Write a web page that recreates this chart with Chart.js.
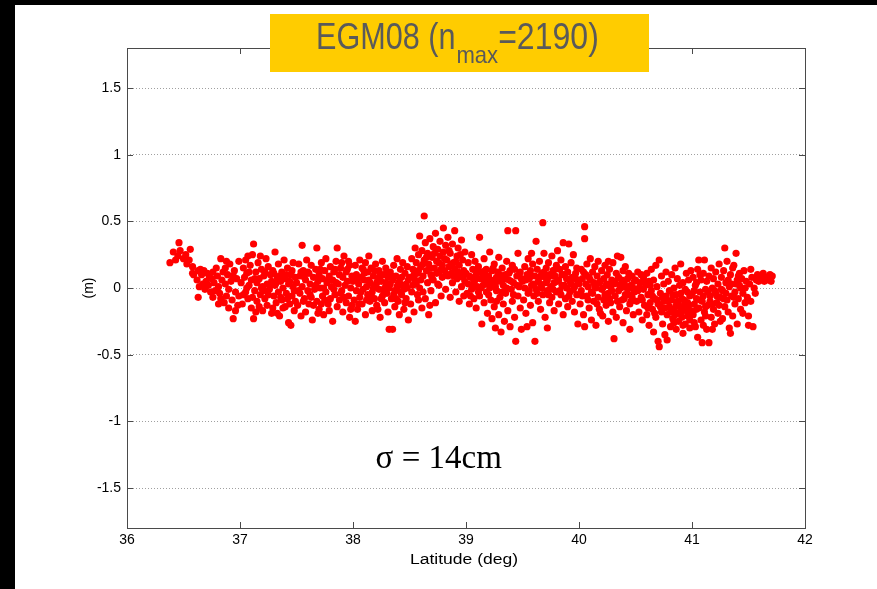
<!DOCTYPE html>
<html>
<head>
<meta charset="utf-8">
<title>EGM08 residuals</title>
<script src="https://cdn.jsdelivr.net/npm/chart.js@4.4.0/dist/chart.umd.min.js"></script>
<style>
  html, body { margin: 0; padding: 0; background: #fff; }
  #residualChart { display: block; }
</style>
</head>
<body>
<canvas id="residualChart" width="877" height="589"></canvas>
<script>
// Geoid height differences along the profile, [latitude (deg), dh (m)]
const obs36 = [
  [36.38,0.19],[36.41,0.27],[36.43,0.21],[36.45,0.24],[36.46,0.34],[36.47,0.28],[36.50,0.22],[36.52,0.25],
  [36.53,0.18],[36.55,0.21],[36.56,0.29],[36.58,0.16],[36.58,0.11],
  [36.59,0.10],[36.62,0.06],[36.63,0.13],[36.63,-0.07],[36.64,0.01],[36.65,0.14],[36.66,0.10],[36.67,0.03],
  [36.68,0.13],[36.69,-0.01],[36.70,0.05],[36.71,0.11],[36.72,0.02],[36.73,0.08],[36.74,-0.03],[36.75,0.07],
  [36.76,0.12],[36.76,-0.07],[36.77,0.04],[36.78,-0.02],[36.79,0.15],[36.80,0.09],[36.81,0.01],[36.81,-0.12],
  [36.82,-0.04],[36.83,-0.08],[36.83,0.22],[36.84,0.06],[36.85,0.12],[36.86,-0.11],[36.87,0.03],[36.87,0.15],
  [36.88,-0.06],[36.88,0.20],[36.89,0.10],[36.90,-0.01],[36.90,-0.15],[36.91,0.18],[36.92,0.05],[36.93,-0.09],
  [36.94,-0.23],[36.94,0.09],[36.95,0.13],[36.96,-0.03],[36.96,-0.17],[36.97,0.07],[36.98,-0.13],[36.99,0.20],
  [36.99,-0.06]
];

const obs37 = [
  [37.01,0.04],[37.02,-0.12],[37.03,0.15],[37.03,-0.05],[37.04,0.08],[37.05,-0.03],[37.05,0.21],[37.06,0.11],
  [37.06,0.00],[37.07,-0.08],[37.07,0.24],[37.08,0.02],[37.08,0.12],[37.09,0.17],[37.10,-0.15],[37.10,0.06],
  [37.11,0.25],[37.11,-0.07],[37.12,0.33],[37.12,-0.23],[37.13,-0.02],[37.13,0.07],[37.14,0.12],[37.14,-0.18],
  [37.15,0.04],[37.15,-0.10],[37.16,0.19],[37.17,0.07],[37.17,-0.14],[37.18,-0.05],[37.18,0.24],[37.19,0.14],
  [37.19,0.00],[37.20,-0.17],[37.20,0.01],[37.21,0.09],[37.21,-0.02],[37.22,-0.08],[37.22,0.12],[37.23,0.22],
  [37.24,0.03],[37.24,-0.13],[37.25,0.16],[37.25,-0.05],[37.26,-0.01],[37.27,0.10],[37.27,0.02],[37.28,-0.19],
  [37.28,0.05],[37.29,0.13],[37.29,-0.15],[37.30,-0.06],[37.30,0.11],[37.31,0.27],[37.31,0.02],[37.32,-0.11],
  [37.32,0.04],[37.33,0.08],[37.33,-0.19],[37.34,0.18],[37.34,-0.03],[37.35,-0.21],[37.35,0.09],[37.36,0.05],
  [37.36,-0.07],[37.37,0.12],[37.37,-0.09],[37.38,0.00],[37.38,-0.15],[37.39,0.21],[37.40,-0.14],[37.40,0.07],
  [37.41,-0.04],[37.41,0.10],[37.42,0.15],[37.42,-0.08],[37.43,-0.26],[37.43,0.03],[37.44,-0.12],[37.44,0.05],
  [37.45,0.10],[37.45,-0.28],[37.46,-0.06],[37.46,0.13],[37.47,0.19],[37.47,0.01],[37.48,-0.17],[37.48,-0.02],
  [37.49,0.08],[37.49,-0.10],
  [37.50,0.04],[37.51,-0.13],[37.52,0.18],[37.52,-0.02],[37.53,-0.04],[37.53,0.09],[37.54,-0.21],[37.54,0.12],
  [37.55,0.32],[37.55,0.01],[37.56,0.13],[37.56,-0.10],[37.57,-0.08],[37.57,0.08],[37.58,0.06],[37.58,-0.18],
  [37.59,0.21],[37.60,-0.02],[37.60,0.12],[37.61,0.11],[37.61,-0.12],[37.62,0.03],[37.62,-0.05],[37.63,0.17],
  [37.63,-0.07],[37.64,-0.24],[37.65,0.08],[37.65,-0.13],[37.66,-0.01],[37.67,0.14],[37.67,0.02],[37.68,0.30],
  [37.68,-0.10],[37.69,0.05],[37.69,-0.19],[37.70,-0.16],[37.70,0.10],[37.71,0.00],[37.71,0.14],[37.72,0.19],
  [37.72,-0.12],[37.73,-0.06],[37.73,0.07],[37.74,-0.20],[37.74,0.00],[37.75,0.13],[37.75,-0.09],[37.76,-0.03],
  [37.76,0.22],[37.77,0.04],[37.78,-0.12],[37.78,0.06],[37.79,0.09],[37.79,-0.17],[37.80,-0.08],[37.80,0.16],
  [37.81,0.01],[37.82,-0.25],[37.82,0.06],[37.83,0.12],[37.83,-0.01],[37.84,-0.05],[37.84,0.14],[37.85,0.20],
  [37.85,0.04],[37.86,0.30],[37.86,-0.14],[37.87,0.03],[37.88,0.10],[37.88,-0.09],[37.89,0.15],[37.89,-0.04],
  [37.90,-0.02],[37.90,0.19],[37.91,0.08],[37.91,-0.18],[37.92,0.24],[37.92,-0.07],[37.93,0.02],[37.94,-0.11],
  [37.94,0.12],[37.95,0.05],[37.95,0.14],[37.96,-0.06],[37.96,0.20],[37.97,-0.22],[37.97,0.17],[37.98,0.00],
  [37.98,-0.16],[37.99,0.09],[37.99,-0.13]
];

const obs38 = [
  [38.00,0.05],[38.01,-0.09],[38.02,0.17],[38.02,-0.25],[38.03,-0.02],[38.03,0.10],[38.04,-0.16],[38.04,0.07],
  [38.05,0.03],[38.05,-0.12],[38.06,0.21],[38.06,-0.07],[38.07,0.08],[38.07,-0.03],[38.08,-0.12],[38.08,0.15],
  [38.09,0.14],[38.09,-0.01],[38.10,0.06],[38.10,0.11],[38.11,-0.20],[38.11,0.19],[38.12,0.01],[38.12,-0.09],
  [38.13,-0.05],[38.13,0.12],[38.14,0.24],[38.14,0.06],[38.15,-0.10],[38.15,0.04],[38.16,0.15],[38.16,-0.06],
  [38.17,-0.03],[38.17,-0.17],[38.18,0.09],[38.18,0.00],[38.19,-0.08],[38.19,0.13],[38.20,0.02],[38.20,0.18],
  [38.21,-0.13],[38.21,0.04],[38.22,0.07],[38.22,-0.16],[38.23,-0.01],[38.23,0.13],[38.24,-0.22],[38.24,0.10],
  [38.25,0.05],[38.25,-0.08],[38.26,-0.06],[38.26,0.20],[38.27,0.10],[38.27,-0.02],[38.28,-0.11],[38.28,0.00],
  [38.29,0.15],[38.29,0.04],[38.30,-0.04],[38.30,0.11],[38.31,0.08],[38.31,-0.18],[38.32,-0.31],[38.32,0.00],
  [38.33,0.03],[38.33,0.12],[38.34,-0.08],[38.34,0.09],[38.35,-0.31],[38.35,0.06],[38.36,0.17],[38.36,-0.05],
  [38.37,-0.02],[38.37,-0.14],[38.38,0.09],[38.38,-0.08],[38.39,0.01],[38.39,0.22],[38.40,-0.10],[38.40,0.03],
  [38.41,0.05],[38.41,-0.20],[38.42,0.14],[38.42,-0.03],[38.43,-0.05],[38.43,0.08],[38.44,0.19],[38.44,0.02],
  [38.45,-0.01],[38.45,-0.16],[38.46,0.11],[38.46,-0.11],[38.47,0.03],[38.47,-0.08],[38.48,0.16],[38.48,0.00],
  [38.49,0.06],[38.49,-0.24],
  [38.50,0.08],[38.51,-0.12],[38.52,0.22],[38.52,-0.03],[38.53,0.02],[38.53,0.14],[38.54,-0.18],[38.54,0.10],
  [38.55,0.30],[38.55,0.06],[38.56,0.19],[38.56,0.03],[38.57,-0.05],[38.57,0.11],[38.58,0.25],[38.58,0.13],
  [38.58,-0.09],[38.59,0.39],[38.59,0.00],[38.60,0.16],[38.60,0.06],[38.61,-0.15],[38.61,0.28],[38.62,0.09],
  [38.62,0.18],[38.62,-0.03],[38.63,0.54],[38.63,0.21],[38.64,-0.08],[38.64,0.34],[38.65,0.13],[38.65,0.23],
  [38.66,0.04],[38.66,0.26],[38.67,-0.20],[38.67,0.18],[38.68,0.37],[38.68,0.15],[38.68,-0.13],[38.69,0.10],
  [38.69,-0.02],[38.70,0.23],[38.70,0.07],[38.71,0.31],[38.71,0.06],[38.72,0.15],[38.72,0.26],[38.73,0.41],
  [38.73,-0.11],[38.74,0.20],[38.74,0.11],[38.75,0.29],[38.75,0.03],[38.76,0.12],[38.76,0.19],[38.76,0.02],
  [38.77,0.35],[38.77,0.24],[38.78,-0.06],[38.78,0.14],[38.79,0.17],[38.79,0.08],[38.80,0.45],[38.80,0.27],
  [38.81,0.13],[38.81,0.22],[38.82,-0.01],[38.82,0.32],[38.83,0.21],[38.83,0.10],[38.84,0.09],[38.84,0.38],
  [38.85,0.16],[38.85,0.28],[38.86,-0.07],[38.86,0.26],[38.87,0.11],[38.87,0.18],[38.88,0.33],[38.88,0.04],
  [38.89,0.19],[38.89,0.09],[38.90,0.43],[38.90,0.14],[38.91,-0.03],[38.91,0.20],[38.92,0.24],[38.92,0.07],
  [38.93,0.30],[38.93,0.12],[38.94,-0.10],[38.94,0.17],[38.95,0.10],[38.95,0.25],[38.96,0.36],[38.96,0.01],
  [38.97,0.21],[38.97,0.08],[38.98,0.13],[38.98,-0.06],[38.99,0.27],[38.99,0.05]
];

const obs39 = [
  [39.00,0.11],[39.01,-0.04],[39.02,0.19],[39.02,0.03],[39.03,-0.12],[39.03,0.09],[39.04,0.08],[39.04,-0.06],
  [39.05,0.25],[39.05,-0.01],[39.06,0.14],[39.06,0.02],[39.07,-0.08],[39.07,0.05],[39.08,0.20],[39.08,0.06],
  [39.09,-0.15],[39.09,0.10],[39.10,0.01],[39.10,0.12],[39.11,0.16],[39.11,-0.03],[39.12,0.38],[39.12,-0.06],
  [39.13,0.07],[39.13,0.00],[39.14,-0.27],[39.14,0.12],[39.15,0.02],[39.15,0.09],[39.16,-0.11],[39.16,0.22],
  [39.17,0.06],[39.17,0.13],[39.18,-0.03],[39.18,0.14],[39.19,-0.19],[39.19,0.03],[39.20,0.09],[39.20,-0.05],
  [39.21,0.00],[39.21,0.27],[39.22,-0.09],[39.22,0.06],[39.23,0.13],[39.23,-0.23],[39.24,0.04],[39.24,0.15],
  [39.25,-0.14],[39.25,0.18],[39.26,-0.30],[39.26,0.01],[39.27,0.08],[39.27,-0.02],[39.27,-0.10],[39.28,0.12],
  [39.28,0.05],[39.29,-0.20],[39.29,0.23],[39.30,-0.07],[39.30,0.10],[39.31,0.05],[39.31,-0.33],[39.32,0.15],
  [39.32,-0.03],[39.33,-0.12],[39.33,0.02],[39.34,-0.25],[39.34,0.07],[39.35,0.10],[39.35,-0.04],[39.36,0.20],
  [39.36,0.00],[39.37,0.43],[39.37,-0.17],[39.38,0.06],[39.38,0.11],[39.39,-0.29],[39.39,0.13],[39.40,-0.01],
  [39.40,0.05],[39.41,-0.10],[39.41,0.17],[39.42,0.04],[39.42,-0.05],[39.43,-0.22],[39.43,0.14],[39.44,0.43],
  [39.44,-0.40],[39.45,0.09],[39.45,0.02],[39.46,-0.06],[39.46,0.26],[39.47,0.01],[39.47,0.10],[39.48,-0.15],
  [39.48,0.12],[39.49,-0.31],[39.49,0.07],
  [39.50,0.05],[39.51,-0.09],[39.52,0.16],[39.52,0.00],[39.53,-0.19],[39.53,0.06],[39.54,0.10],[39.54,-0.29],
  [39.55,-0.04],[39.55,0.22],[39.56,0.07],[39.56,-0.02],[39.57,-0.13],[39.57,0.13],[39.58,0.02],[39.58,0.09],
  [39.58,0.26],[39.59,-0.26],[39.59,0.18],[39.60,-0.06],[39.60,0.03],[39.61,-0.40],[39.61,0.09],[39.62,0.35],
  [39.62,-0.01],[39.63,0.14],[39.63,-0.04],[39.64,-0.10],[39.64,0.05],[39.65,0.20],[39.65,0.08],[39.66,-0.16],
  [39.66,0.03],[39.67,0.11],[39.67,0.00],[39.68,0.49],[39.68,-0.05],[39.69,0.26],[39.69,0.12],[39.70,0.08],
  [39.70,-0.22],[39.71,0.15],[39.71,0.04],[39.72,-0.02],[39.72,0.06],[39.72,-0.30],[39.73,0.19],[39.73,-0.05],
  [39.74,-0.11],[39.74,0.10],[39.75,0.01],[39.75,0.09],[39.76,0.24],[39.76,-0.07],[39.77,0.13],[39.77,-0.01],
  [39.78,-0.17],[39.78,0.04],[39.79,0.09],[39.79,0.14],[39.80,-0.03],[39.80,0.17],[39.81,0.28],[39.81,0.05],
  [39.82,-0.12],[39.82,0.06],[39.83,0.14],[39.83,-0.02],[39.84,-0.05],[39.84,0.21],[39.85,0.02],[39.85,0.10],
  [39.86,0.34],[39.86,-0.20],[39.87,0.10],[39.87,0.02],[39.88,-0.08],[39.88,0.16],[39.89,0.00],[39.89,0.07],
  [39.90,0.12],[39.90,-0.14],[39.91,0.33],[39.91,-0.06],[39.92,0.05],[39.92,-0.03],[39.93,0.19],[39.93,0.03],
  [39.94,-0.10],[39.94,0.08],[39.95,0.25],[39.95,-0.01],[39.96,0.01],[39.96,-0.18],[39.97,0.11],[39.97,0.07],
  [39.98,-0.05],[39.98,0.15],[39.99,0.04],[39.99,-0.27]
];

const obs40 = [
  [40.00,0.03],[40.01,-0.12],[40.02,0.14],[40.02,-0.02],[40.03,0.07],[40.03,-0.06],[40.04,-0.20],[40.04,0.12],
  [40.05,0.46],[40.05,0.37],[40.05,-0.29],[40.06,0.10],[40.06,0.03],[40.07,-0.06],[40.07,0.18],[40.08,0.01],
  [40.08,-0.09],[40.09,-0.15],[40.09,0.08],[40.10,0.22],[40.10,0.06],[40.11,-0.03],[40.11,-0.24],[40.12,0.12],
  [40.12,-0.04],[40.13,0.04],[40.13,-0.10],[40.14,0.16],[40.14,0.01],[40.15,-0.28],[40.15,0.00],[40.16,0.09],
  [40.16,-0.12],[40.17,-0.07],[40.17,0.20],[40.18,-0.16],[40.18,0.04],[40.19,0.05],[40.19,-0.19],[40.20,-0.01],
  [40.20,0.13],[40.21,-0.21],[40.21,0.00],[40.22,0.07],[40.22,-0.09],[40.23,0.17],[40.23,-0.05],[40.24,0.02],
  [40.24,-0.13],[40.25,0.10],[40.25,0.03],[40.26,-0.04],[40.26,-0.25],[40.26,0.20],[40.27,0.14],[40.27,-0.08],
  [40.28,0.01],[40.28,-0.11],[40.29,0.06],[40.29,-0.02],[40.30,-0.18],[40.30,0.19],[40.31,-0.38],[40.31,0.03],
  [40.32,-0.06],[40.32,0.05],[40.33,0.11],[40.33,-0.22],[40.34,0.24],[40.34,-0.10],[40.35,-0.02],[40.35,0.08],
  [40.36,-0.14],[40.36,0.02],[40.37,0.23],[40.37,0.00],[40.38,-0.09],[40.38,0.06],[40.39,0.13],[40.39,-0.26],
  [40.40,0.04],[40.40,-0.08],[40.41,-0.05],[40.41,0.16],[40.42,-0.17],[40.42,0.01],[40.43,0.07],[40.43,-0.01],
  [40.44,0.11],[40.44,-0.05],[40.45,-0.12],[40.45,-0.31],[40.46,0.02],[40.46,-0.10],[40.47,0.09],[40.47,-0.07],
  [40.48,-0.20],[40.48,0.00],[40.49,0.05],[40.49,-0.03],
  [40.50,0.06],[40.51,-0.10],[40.52,0.12],[40.52,-0.02],[40.53,-0.18],[40.53,0.00],[40.54,0.04],[40.55,-0.07],
  [40.55,0.10],[40.56,-0.24],[40.56,-0.09],[40.57,-0.01],[40.57,0.08],[40.58,-0.13],[40.58,0.05],[40.59,0.02],
  [40.60,-0.20],[40.60,0.11],[40.61,-0.05],[40.61,-0.15],[40.62,0.05],[40.62,-0.28],[40.63,-0.11],[40.63,0.02],
  [40.64,0.14],[40.64,-0.02],[40.65,-0.16],[40.65,-0.06],[40.66,0.06],[40.66,-0.33],[40.67,-0.08],[40.67,-0.19],
  [40.68,0.17],[40.68,-0.22],[40.69,0.01],[40.69,-0.09],[40.70,-0.12],[40.70,-0.40],[40.71,0.21],[40.71,-0.44],
  [40.72,-0.04],[40.72,-0.14],[40.73,-0.18],[40.73,0.09],[40.74,-0.27],[40.74,-0.07],[40.75,0.03],[40.75,-0.10],
  [40.76,-0.35],[40.76,-0.15],[40.77,0.12],[40.77,-0.06],[40.78,-0.39],[40.78,-0.20],[40.79,0.05],[40.79,-0.10],
  [40.80,-0.14],[40.80,-0.02],[40.81,-0.29],[40.81,-0.18],[40.82,0.10],[40.82,-0.09],[40.83,-0.23],[40.83,-0.05],
  [40.84,0.00],[40.84,-0.16],[40.84,-0.26],[40.85,0.15],[40.85,-0.20],[40.86,-0.05],[40.86,-0.31],[40.86,-0.13],
  [40.87,0.07],[40.87,-0.10],[40.88,-0.12],[40.88,-0.25],[40.88,-0.19],[40.89,0.02],[40.89,-0.14],[40.90,-0.19],
  [40.90,0.18],[40.90,-0.04],[40.91,-0.08],[40.91,-0.22],[40.92,-0.34],[40.92,0.04],[40.92,-0.28],[40.93,-0.15],
  [40.93,-0.09],[40.94,-0.01],[40.94,-0.27],[40.94,-0.12],[40.95,0.11],[40.95,-0.17],[40.96,-0.11],[40.96,-0.21],
  [40.96,-0.03],[40.97,0.06],[40.97,-0.13],[40.98,-0.06],[40.98,-0.30],[40.98,-0.24],[40.99,0.13],[40.99,-0.17]
];

const obs41 = [
  [41.00,-0.05],[41.01,0.08],[41.01,-0.20],[41.02,-0.12],[41.02,-0.02],[41.02,-0.26],[41.03,0.02],[41.03,-0.29],
  [41.04,-0.08],[41.04,-0.16],[41.04,0.04],[41.05,0.14],[41.05,-0.37],[41.06,0.21],[41.06,-0.15],[41.07,-0.03],
  [41.07,-0.09],[41.07,0.10],[41.08,-0.24],[41.08,0.06],[41.09,-0.41],[41.09,-0.10],[41.10,0.11],[41.10,-0.06],
  [41.10,-0.28],[41.11,0.21],[41.11,-0.18],[41.12,-0.01],[41.12,-0.21],[41.12,-0.14],[41.13,-0.31],[41.13,0.05],
  [41.14,-0.13],[41.14,-0.03],[41.15,-0.41],[41.15,0.09],[41.16,-0.06],[41.16,-0.10],[41.17,-0.22],[41.17,0.15],
  [41.18,0.00],[41.18,-0.12],[41.18,-0.31],[41.19,-0.16],[41.19,0.07],[41.20,-0.27],[41.20,-0.02],[41.21,-0.04],
  [41.21,0.12],[41.22,-0.11],[41.22,-0.06],[41.23,0.03],[41.23,-0.19],[41.24,0.18],[41.24,-0.13],[41.25,-0.07],
  [41.25,-0.25],[41.26,0.08],[41.26,-0.01],[41.27,-0.23],[41.27,-0.02],[41.28,0.13],[41.28,-0.08],[41.29,0.30],
  [41.29,-0.14],[41.30,0.04],[41.30,-0.04],[41.31,-0.09],[41.31,0.20],[41.32,-0.18],[41.32,0.06],[41.33,-0.30],
  [41.33,0.01],[41.34,-0.34],[41.34,0.10],[41.35,-0.06],[41.35,0.03],[41.36,0.15],[41.36,-0.21],[41.37,0.17],
  [41.37,-0.07],[41.38,-0.03],[41.38,-0.12],[41.39,0.26],[41.39,0.03],[41.40,0.06],[41.40,-0.27],[41.41,-0.08],
  [41.41,0.09],[41.42,0.11],[41.42,0.02],[41.43,-0.16],[41.43,0.00],[41.44,0.07],[41.45,-0.04],[41.45,-0.19],
  [41.46,0.13],[41.47,0.00],[41.47,-0.11],[41.48,0.05],[41.49,-0.07],[41.50,-0.21],[41.50,-0.28],
  [41.51,0.03],[41.52,-0.10],[41.52,0.14],[41.53,0.08],[41.54,-0.29],[41.55,0.00],[41.56,-0.04],[41.57,0.06],
  [41.58,0.10],[41.59,0.05],[41.61,0.09],[41.62,0.07],[41.63,0.11],[41.64,0.05],[41.66,0.08],[41.67,0.06],
  [41.69,0.10],[41.70,0.05],[41.71,0.09]
];

const latTicks = [36, 37, 38, 39, 40, 41, 42];
const dhTicks = [-1.5, -1, -0.5, 0, 0.5, 1, 1.5];

const points = [obs36, obs37, obs38, obs39, obs40, obs41]
  .flat()
  .map(([lat, dh]) => ({ x: lat, y: dh }));

const sansFont = '"Liberation Sans", Arial, sans-serif';
const frameColor = '#4a4a4a';

// draws black page edges, plot frame with inward ticks, axis titles,
// the sigma note and the title banner
const figurePlugin = {
  id: 'figureDecor',
  beforeDraw(chart) {
    const { ctx, width, height } = chart;
    ctx.save();
    ctx.fillStyle = '#fff';
    ctx.fillRect(0, 0, width, height);
    ctx.fillStyle = '#000';
    ctx.fillRect(0, 0, 15, height);
    ctx.fillRect(0, 0, width, 5);
    ctx.restore();
  },
  afterDraw(chart) {
    const { ctx, chartArea: a, scales } = chart;
    const x = scales.x, y = scales.y;
    ctx.save();

    // frame
    ctx.strokeStyle = frameColor;
    ctx.lineWidth = 1;
    ctx.strokeRect(Math.round(a.left) + 0.5, Math.round(a.top) + 0.5,
                   Math.round(a.right - a.left), Math.round(a.bottom - a.top));

    // inward tick marks on all four sides
    const tl = 6;
    ctx.beginPath();
    latTicks.forEach(v => {
      const px = Math.round(x.getPixelForValue(v)) + 0.5;
      ctx.moveTo(px, a.bottom); ctx.lineTo(px, a.bottom - tl);
      ctx.moveTo(px, a.top); ctx.lineTo(px, a.top + tl);
    });
    dhTicks.forEach(v => {
      const py = Math.round(y.getPixelForValue(v)) + 0.5;
      ctx.moveTo(a.left, py); ctx.lineTo(a.left + tl, py);
      ctx.moveTo(a.right, py); ctx.lineTo(a.right - tl, py);
    });
    ctx.stroke();

    // axis titles
    ctx.fillStyle = '#000';
    ctx.font = '14px ' + sansFont;
    ctx.textAlign = 'center';
    ctx.textBaseline = 'alphabetic';
    ctx.save();
    ctx.translate((a.left + a.right) / 2 - 2, 564);
    ctx.scale(1.25, 1);
    ctx.fillText('Latitude (deg)', 0, 0);
    ctx.restore();

    ctx.save();
    ctx.translate(93, (a.top + a.bottom) / 2);
    ctx.rotate(-Math.PI / 2);
    ctx.fillText('(m)', 0, 0);
    ctx.restore();

    // standard deviation note
    ctx.font = '33px "Liberation Serif", "Times New Roman", serif';
    ctx.textAlign = 'left';
    ctx.fillText('\u03c3 = 14cm', x.getPixelForValue(38.2), y.getPixelForValue(-1.35));

    // title banner
    ctx.fillStyle = '#ffcc00';
    ctx.fillRect(270, 14, 379, 58);
    ctx.fillStyle = '#5a5a5a';
    ctx.font = '36px ' + sansFont;
    const head = 'EGM08 (n', tail = '=2190)';
    const headW = ctx.measureText(head).width * 0.85;
    const tailW = ctx.measureText(tail).width * 0.89;
    ctx.save();
    ctx.translate(316, 49);
    ctx.scale(0.85, 1);
    ctx.fillText(head, 0, 0);
    ctx.restore();
    ctx.font = '24px ' + sansFont;
    const subW = ctx.measureText('max').width * 0.92;
    ctx.save();
    ctx.translate(316 + headW + 1, 63);
    ctx.scale(0.92, 1);
    ctx.fillText('max', 0, 0);
    ctx.restore();
    ctx.font = '36px ' + sansFont;
    ctx.save();
    ctx.translate(316 + headW + subW + 1, 49);
    ctx.scale(0.89, 1);
    ctx.fillText(tail, 0, 0);
    ctx.restore();

    ctx.restore();
  }
};

const ctx = document.getElementById('residualChart').getContext('2d');
new Chart(ctx, {
  type: 'scatter',
  data: {
    datasets: [{
      label: 'dh',
      data: points,
      pointRadius: 3.6,
      pointBackgroundColor: '#ff0000',
      pointBorderWidth: 0,
      pointHoverRadius: 3.6
    }]
  },
  options: {
    responsive: false,
    animation: false,
    events: [],
    layout: { padding: { left: 0, top: 48, right: 72, bottom: 0 } },
    plugins: {
      legend: { display: false },
      tooltip: { enabled: false }
    },
    scales: {
      x: {
        type: 'linear',
        min: 36,
        max: 42,
        afterBuildTicks: s => { s.ticks = latTicks.map(v => ({ value: v })); },
        afterFit: s => { s.height = 61; },
        grid: { display: false, drawTicks: false },
        border: { display: false },
        ticks: {
          padding: 4,
          color: '#000',
          font: { family: sansFont, size: 14 },
          maxRotation: 0,
          callback: v => String(v)
        }
      },
      y: {
        type: 'linear',
        min: -1.8,
        max: 1.8,
        afterBuildTicks: s => { s.ticks = dhTicks.map(v => ({ value: v })); },
        afterFit: s => { s.width = 127; },
        grid: { color: '#a0a0a0', lineWidth: 1, drawTicks: false },
        border: { display: false, dash: [1, 2] },
        ticks: {
          padding: 6,
          color: '#000',
          font: { family: sansFont, size: 14 },
          callback: v => String(v)
        }
      }
    }
  },
  plugins: [figurePlugin]
});
</script>
</body>
</html>
